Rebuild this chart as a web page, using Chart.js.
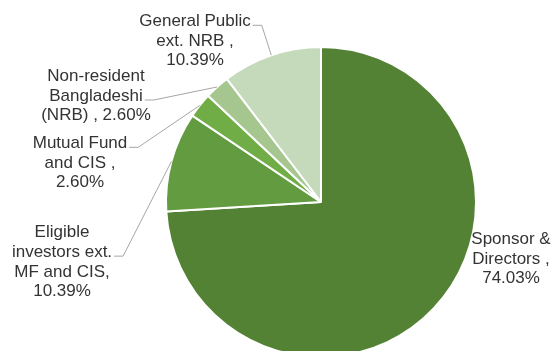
<!DOCTYPE html>
<html>
<head>
<meta charset="utf-8">
<script src="https://cdn.jsdelivr.net/npm/chart.js@4.4.1/dist/chart.umd.min.js"></script>
<style>
  html, body { margin: 0; padding: 0; background: #fff; overflow: hidden; }
  #wrap { width: 554px; height: 351px; overflow: hidden; }
</style>
</head>
<body>
<div id="wrap"><canvas id="pieChart" width="554" height="360"></canvas></div>
<script>
// data
const categories = ['Sponsor & Directors', 'Eligible investors ext. MF and CIS', 'Mutual Fund and CIS',
                    'Non-resident Bangladeshi (NRB)', 'General Public ext. NRB'];
const shares = [74.03, 10.39, 2.60, 2.60, 10.39];
// label text, {v} gets the value
const labelLines = [
    ['Sponsor &', 'Directors ,', '{v}'],
    ['Eligible', 'investors ext.', 'MF and CIS,', '{v}'],
    ['Mutual Fund', 'and CIS ,', '{v}'],
    ['Non-resident', 'Bangladeshi', '(NRB) , {v}'],
    ['General Public', 'ext. NRB ,', '{v}']
];

const sliceColors = ['#548235', '#629b40', '#70ad47', '#a6c68f', '#c5dabb'];

// where each label sits, relative to the pie centre, and which line the leader starts from
const labelPos = [
    { dx: 190, dy: 57, leader: -1 },
    { dx: -259, dy: 60, leader: 1 },
    { dx: -241, dy: -39, leader: 0 },
    { dx: -225, dy: -106, leader: 1 },
    { dx: -126, dy: -161, leader: 0 }
];

const outsideLabels = {
    id: 'outsideLabels',
    afterDraw(chart) {
        const ctx = chart.ctx;
        const arcs = chart.getDatasetMeta(0).data;
        const lineH = 19.7;
        ctx.save();
        ctx.font = '17px "Liberation Sans", Arial, sans-serif';
        ctx.textAlign = 'center';
        ctx.textBaseline = 'middle';
        arcs.forEach((arc, i) => {
            const p = arc.getProps(['x', 'y', 'startAngle', 'endAngle', 'outerRadius'], true);
            const pos = labelPos[i];
            const lines = labelLines[i].map(s => s.replace('{v}', shares[i].toFixed(2) + '%'));
            const lx = p.x + pos.dx;
            const top = p.y + pos.dy - (lines.length - 1) * lineH / 2;

            if (pos.leader >= 0) {
                const mid = (p.startAngle + p.endAngle) / 2;
                const ex = p.x + Math.cos(mid) * p.outerRadius;
                const ey = p.y + Math.sin(mid) * p.outerRadius;
                const w = ctx.measureText(lines[pos.leader]).width;
                const sx = lx + w / 2 + 2;
                const sy = top + pos.leader * lineH + 4;
                ctx.strokeStyle = '#a6a6a6';
                ctx.lineWidth = 1;
                ctx.beginPath();
                ctx.moveTo(sx, sy);
                ctx.lineTo(sx + 9, sy);
                ctx.lineTo(ex, ey);
                ctx.stroke();
            }

            ctx.fillStyle = '#333333';
            lines.forEach((t, k) => ctx.fillText(t, lx, top + k * lineH));
        });
        ctx.restore();
    }
};

new Chart(document.getElementById('pieChart'), {
    type: 'pie',
    data: {
        labels: categories,
        datasets: [{
            data: shares,
            backgroundColor: sliceColors,
            borderColor: '#ffffff',
            borderWidth: 2
        }]
    },
    options: {
        responsive: false,
        animation: false,
        layout: { padding: { left: 165, right: 77, top: 46, bottom: 2 } },
        plugins: {
            legend: { display: false },
            tooltip: { enabled: false }
        }
    },
    plugins: [outsideLabels]
});
</script>
</body>
</html>
